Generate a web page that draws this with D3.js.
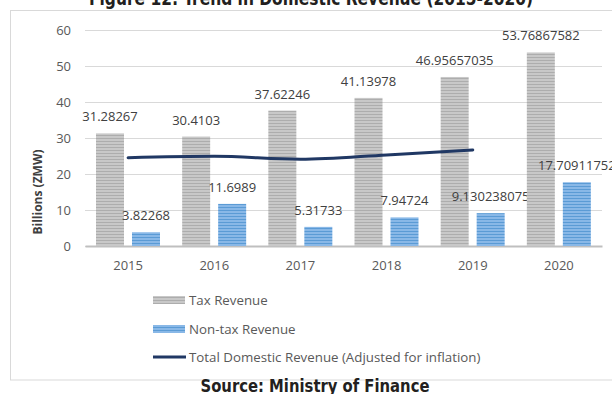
<!DOCTYPE html>
<html>
<head>
<meta charset="utf-8">
<script src="https://cdn.jsdelivr.net/npm/d3@7"></script>
<style>
  html, body { margin: 0; padding: 0; background: #fff; }
  svg { display: block; }
</style>
</head>
<body>
<svg id="chart" width="612" height="394"></svg>
<script>
// Domestic revenue, billions of ZMW
const years = ["2015", "2016", "2017", "2018", "2019", "2020"];
const taxRevenue = [31.28267, 30.4103, 37.62246, 41.13978, 46.95657035, 53.76867582];
const nonTaxRevenue = [3.82268, 11.6989, 5.31733, 7.94724, 9.130238075, 17.70911752];
const taxLabels = ["31.28267", "30.4103", "37.62246", "41.13978", "46.95657035", "53.76867582"];
const nonTaxLabels = ["3.82268", "11.6989", "5.31733", "7.94724", "9.130238075", "17.70911752"];
// Total domestic revenue adjusted for inflation (2015-2019)
const realYears = ["2015", "2016", "2017", "2018", "2019"];
const realTotal = [24.5, 24.9, 24.1, 25.3, 26.7];
const yTicks = [0, 10, 20, 30, 40, 50, 60];
const seriesNames = ["Tax Revenue", "Non-tax Revenue", "Total Domestic Revenue (Adjusted for inflation)"];

const svg = d3.select("#chart");
const bodyFont = "'Open Sans', 'Noto Sans', sans-serif";
const headFont = "'Liberation Sans Narrow', 'DejaVu Sans Condensed', sans-serif";

// striped fills for the bars
const defs = svg.append("defs");
function stripes(id, base, line) {
  const p = defs.append("pattern").attr("id", id)
    .attr("patternUnits", "userSpaceOnUse").attr("width", 4).attr("height", 3);
  p.append("rect").attr("width", 4).attr("height", 3).attr("fill", base);
  p.append("rect").attr("width", 4).attr("height", 1).attr("fill", line);
}
stripes("taxFill", "#c8c8c8", "#adadad");
stripes("nonTaxFill", "#89b8e7", "#5b9bd5");

// chart frame
svg.append("rect").attr("x", 10.5).attr("y", 10.5).attr("width", 620).attr("height", 369.5)
  .attr("fill", "none").attr("stroke", "#d9d9d9");

const x = d3.scaleBand().domain(years).range([85, 602]).padding(0);
const inner = d3.scaleBand().domain(["tax", "nonTax"]).range([11, 75]).paddingInner(0.222);
const y = d3.scaleLinear().domain([0, 60]).range([246, 30]);

// gridlines and y tick labels
const yAxis = svg.append("g").attr("transform", "translate(85,0)")
  .call(d3.axisLeft(y).tickValues(yTicks).tickSize(-517).tickPadding(14));
yAxis.select(".domain").remove();
yAxis.selectAll(".tick line").attr("stroke", "#d9d9d9");
yAxis.selectAll(".tick text").attr("fill", "#595959")
  .style("font-family", bodyFont).style("font-size", "13px");

// x axis
const xAxis = svg.append("g").attr("transform", "translate(0,246)")
  .call(d3.axisBottom(x).tickSize(0).tickPadding(15));
xAxis.select(".domain").attr("stroke", "#bfbfbf").attr("stroke-width", 2);
xAxis.selectAll(".tick text").attr("fill", "#595959")
  .style("font-family", bodyFont).style("font-size", "13px");

// bars
const groups = svg.append("g").selectAll("g").data(years).join("g")
  .attr("transform", d => `translate(${x(d)},0)`);
groups.append("rect")
  .attr("x", inner("tax")).attr("width", inner.bandwidth())
  .attr("y", (d, i) => y(taxRevenue[i])).attr("height", (d, i) => y(0) - y(taxRevenue[i]))
  .attr("fill", "url(#taxFill)");
groups.append("rect")
  .attr("x", inner("nonTax")).attr("width", inner.bandwidth())
  .attr("y", (d, i) => y(nonTaxRevenue[i])).attr("height", (d, i) => y(0) - y(nonTaxRevenue[i]))
  .attr("fill", "url(#nonTaxFill)");

// value labels
groups.append("text")
  .attr("x", inner("tax") + inner.bandwidth() / 2)
  .attr("y", (d, i) => y(taxRevenue[i]) - 12)
  .attr("text-anchor", "middle").attr("fill", "#404040")
  .style("font-family", bodyFont).style("font-size", "13px")
  .text((d, i) => taxLabels[i]);
groups.append("text")
  .attr("x", inner("nonTax") + inner.bandwidth() / 2)
  .attr("y", (d, i) => y(nonTaxRevenue[i]) - 12)
  .attr("text-anchor", "middle").attr("fill", "#404040")
  .style("font-family", bodyFont).style("font-size", "13px")
  .text((d, i) => nonTaxLabels[i]);

// real total line
const line = d3.line()
  .x((d, i) => x(realYears[i]) + x.bandwidth() / 2)
  .y(d => y(d))
  .curve(d3.curveMonotoneX);
svg.append("path").datum(realTotal).attr("d", line)
  .attr("fill", "none").attr("stroke", "#203864").attr("stroke-width", 3)
  .attr("stroke-linecap", "round");

// y axis title
svg.append("text").attr("transform", "translate(42,192) rotate(-90)")
  .attr("text-anchor", "middle").attr("fill", "#404040")
  .style("font-family", bodyFont).style("font-size", "12px").style("font-weight", "bold")
  .text("Billions (ZMW)");

// legend
const legend = svg.append("g").attr("transform", "translate(153,0)");
const legendY = [300, 329, 357];
legend.append("rect").attr("x", 0).attr("y", legendY[0] - 4).attr("width", 32).attr("height", 8)
  .attr("fill", "url(#taxFill)");
legend.append("rect").attr("x", 0).attr("y", legendY[1] - 4).attr("width", 32).attr("height", 8)
  .attr("fill", "url(#nonTaxFill)");
legend.append("line").attr("x1", 0).attr("x2", 33).attr("y1", legendY[2]).attr("y2", legendY[2])
  .attr("stroke", "#203864").attr("stroke-width", 3);
legend.selectAll("text.lg").data(seriesNames).join("text").attr("class", "lg")
  .attr("x", 36).attr("y", (d, i) => legendY[i]).attr("dy", "0.35em")
  .attr("fill", "#595959")
  .style("font-family", bodyFont).style("font-size", "13.3px")
  .text(d => d);

// title and source
svg.append("text").attr("x", 311).attr("y", 5).attr("text-anchor", "middle")
  .attr("fill", "#231f20").style("font-family", headFont).style("font-size", "20px")
  .style("font-weight", "bold")
  .attr("textLength", 444).attr("lengthAdjust", "spacingAndGlyphs")
  .text("Figure 12: Trend in Domestic Revenue (2015-2020)");
svg.append("text").attr("x", 315).attr("y", 392).attr("text-anchor", "middle")
  .attr("fill", "#231f20").style("font-family", headFont).style("font-size", "17px")
  .style("font-weight", "bold")
  .attr("textLength", 229).attr("lengthAdjust", "spacingAndGlyphs")
  .text("Source: Ministry of Finance");
</script>
</body>
</html>
